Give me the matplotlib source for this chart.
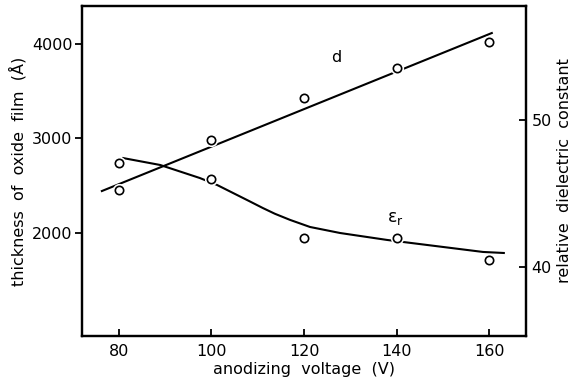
import matplotlib
matplotlib.use("Agg")
import matplotlib.pyplot as plt

# measured points
voltage = [80, 100, 120, 140, 160]
thickness = [2455, 2984, 3429, 3746, 4021]
eps_r = [47.1, 46.0, 42.0, 42.0, 40.5]

# hand drawn fitted lines
d_line_v = [76.3, 160.6]
d_line = [2444, 4116]
eps_line_v = [80.9, 88.9, 97.5, 101.2, 108.1, 111.1, 113.7, 117.0, 121.3, 127.8, 137.9, 141.4, 158.7, 163.2]
eps_line = [47.41, 46.94, 46.05, 45.58, 44.49, 44.01, 43.62, 43.20, 42.72, 42.31, 41.84, 41.70, 41.02, 40.95]

fig = plt.figure(figsize=(5.79, 3.80), dpi=100)
ax = fig.add_axes([0.1416, 0.1158, 0.7669, 0.8684])
ax2 = ax.twinx()

lw = 1.5
ax.plot(d_line_v, d_line, color="black", lw=lw, zorder=2)
ax.plot(voltage, thickness, "o", ms=6.5, mfc="white", mec="white", mew=3, zorder=3)
ax.plot(voltage, thickness, "o", ms=6, mfc="white", mec="black", mew=1.2, zorder=4)

ax2.plot(eps_line_v, eps_line, color="black", lw=lw, zorder=2)
ax2.plot(voltage, eps_r, "o", ms=6.5, mfc="white", mec="white", mew=3, zorder=3)
ax2.plot(voltage, eps_r, "o", ms=6, mfc="white", mec="black", mew=1.2, zorder=4)

ax.set_xlim(72, 168)
ax.set_ylim(910, 4402)
ax2.set_ylim(35.3, 57.76)

ax.set_xticks([80, 100, 120, 140, 160])
ax.set_yticks([2000, 3000, 4000])
ax2.set_yticks([40, 50])

fs = 11.5
ax.tick_params(axis="x", direction="in", length=5, width=1.3, labelsize=fs, pad=6)
ax.tick_params(axis="y", direction="out", length=5, width=1.3, labelsize=fs, pad=2)
ax2.tick_params(axis="y", direction="in", length=5, width=1.3, labelsize=fs, pad=4)

for a in (ax, ax2):
    for s in a.spines.values():
        s.set_linewidth(1.6)

ax.set_xlabel("anodizing  voltage  (V)", fontsize=fs, labelpad=2)
ax.set_ylabel("thickness  of  oxide  film  (Å)", fontsize=fs, labelpad=4)
ax2.set_ylabel("relative  dielectric  constant", fontsize=fs, labelpad=4)

ax.text(126.9, 3852, "d", fontsize=fs, ha="center", va="center")
ax2.text(139.7, 43.3, r"$\mathrm{\varepsilon_r}$", fontsize=fs + 1, ha="center", va="center")

fig.savefig("out.png", dpi=100)
